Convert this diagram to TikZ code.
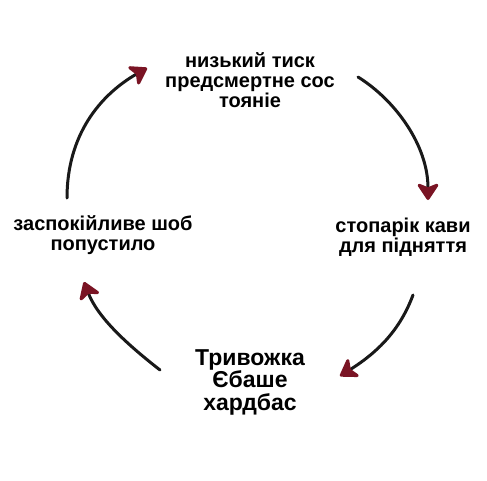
\documentclass[tikz,border=0pt]{standalone}
\usepackage{fontspec}
\setmainfont{Liberation Sans}[BoldFont={Liberation Sans Bold}]
\usetikzlibrary{arrows.meta}
\definecolor{tipred}{HTML}{7A1424}
\tikzset{
  lbl/.style={font=\bfseries\fontsize{20}{20}\selectfont, align=center, inner sep=0pt, text=black},
  lblbig/.style={font=\bfseries\fontsize{23}{22.5}\selectfont, align=center, inner sep=0pt, text=black},
  cyc/.style={line width=3pt, black!90, line cap=round,
    -{Stealth[length=19pt,width=25pt,inset=5pt,color=tipred,round]}}
}
\begin{document}
\begin{tikzpicture}[x=1pt,y=-1pt]
\useasboundingbox[fill=white] (0,0) rectangle (487,480);
\node[lbl] (top) at (250,80) {низький тиск\\предсмертне сос\\тояніе};
\node[lbl] (right) at (403,237) {стопарік кави\\для підняття};
\node[lbl] (left) at (103,235) {заспокійливе шоб\\попустило};
\node[lblbig] (bottom) at (250,382) {Тривожка\\Єбаше\\хардбас};
\coordinate (a1) at (67,198);  \coordinate (a2) at (147,68);
\coordinate (b1) at (358,77);  \coordinate (b2) at (428,200);
\coordinate (c1) at (413,295); \coordinate (c2) at (340,376);
\coordinate (d1) at (160,370); \coordinate (d2) at (84,282);
\draw[cyc] (a1) .. controls (67,135) and (100,95) .. (a2);
\draw[cyc] (b1) .. controls (395,100) and (428,145) .. (b2);
\draw[cyc] (c1) .. controls (400,330) and (378,352) .. (c2);
\draw[cyc] (d1) .. controls (128,345) and (98,318) .. (d2);
\end{tikzpicture}
\end{document}
